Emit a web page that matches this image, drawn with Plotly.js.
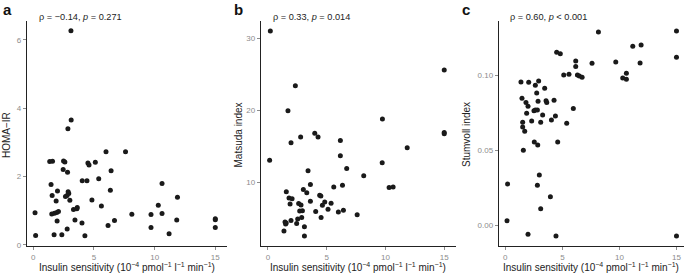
<!DOCTYPE html>
<html>
<head>
<meta charset="utf-8">
<script src="https://cdn.plot.ly/plotly-3.0.1.min.js"></script>
<style>html,body{margin:0;padding:0;background:#fff}#chart{width:685px;height:273px}</style>
</head>
<body>
<div id="chart"></div>
<script>
// Panel a: HOMA-IR vs insulin sensitivity
const sensA = [3.10,3.12,2.85,5.99,7.60,1.35,1.58,2.49,2.60,4.50,4.59,5.11,2.46,2.82,6.41,4.03,4.42,5.39,10.61,1.46,1.99,2.87,2.92,2.65,2.78,1.55,3.01,1.88,6.35,11.88,4.83,5.61,10.30,0.14,1.52,1.74,1.93,2.07,3.31,3.59,3.62,8.12,9.70,10.61,1.96,3.43,4.01,6.69,11.82,15.0,15.0,6.16,2.79,9.70,15.0,0.19,1.71,2.35,4.25,11.19];
const homaIR = [6.27,3.66,3.40,2.73,2.73,2.44,2.45,2.46,2.43,2.40,2.34,2.42,2.21,2.13,2.17,1.88,1.88,1.94,1.80,1.77,1.58,1.56,1.51,1.42,1.45,1.45,1.31,1.29,1.60,1.40,1.32,1.14,1.16,0.94,0.91,0.93,0.95,0.98,1.04,1.06,1.10,0.90,0.89,0.92,0.70,0.73,0.64,0.72,0.73,0.77,0.74,0.57,0.47,0.51,0.51,0.28,0.30,0.30,0.27,0.33];

// Panel b: Matsuda index
const sensB = [0.20,15.0,2.33,1.70,9.74,15.0,15.0,3.98,2.78,4.26,6.16,1.96,11.85,6.16,0.14,9.72,3.41,6.70,8.15,3.61,6.34,5.60,10.31,10.65,1.56,3.01,3.30,1.79,2.05,4.40,4.50,1.88,2.61,2.81,4.83,4.63,5.37,3.61,2.70,2.93,4.06,5.11,5.99,6.42,7.59,1.96,2.53,2.87,4.52,1.45,1.55,1.50,2.44,1.36,3.10,3.10];
const matsuda = [31.0,25.6,23.4,19.95,18.8,16.9,16.75,16.8,16.3,16.3,15.8,15.5,14.8,13.7,13.05,12.7,11.6,11.9,10.9,9.7,9.6,9.35,9.26,9.35,8.7,9.0,8.56,7.8,7.7,8.2,8.1,7.0,7.04,6.85,7.27,6.8,7.1,7.36,6.0,6.06,5.93,6.25,5.88,6.1,5.5,4.68,4.9,5.1,5.1,4.5,4.35,4.2,4.26,3.24,3.84,2.55];

// Panel c: Stumvoll index
const sensC = [8.16,15.0,15.0,11.17,11.90,4.50,4.82,6.17,6.17,7.60,9.68,11.81,5.12,5.58,6.32,6.49,6.73,10.61,10.29,10.61,1.37,2.05,2.63,2.92,3.45,2.75,1.46,1.81,1.99,2.87,3.57,3.63,4.27,2.51,2.63,2.81,1.87,3.27,4.39,5.96,1.52,1.52,1.70,2.31,3.10,4.04,5.38,2.54,2.84,4.59,1.58,2.98,2.81,0.20,3.95,3.10,0.15,1.99,4.44,15.0];
const stumvoll = [0.1289,0.1296,0.1120,0.1193,0.1202,0.1153,0.1144,0.1096,0.1058,0.1080,0.1089,0.1082,0.1002,0.1007,0.1002,0.0996,0.0987,0.1013,0.0982,0.0973,0.0956,0.0953,0.0933,0.0962,0.0913,0.0882,0.0847,0.0818,0.0793,0.0827,0.0831,0.0818,0.0833,0.0764,0.0769,0.0769,0.0747,0.0736,0.0729,0.0778,0.0687,0.0656,0.0627,0.0696,0.0687,0.0702,0.0680,0.0556,0.0536,0.0556,0.0500,0.0336,0.0267,0.0276,0.0191,0.0111,0.0031,-0.0060,-0.0071,-0.0071];

const panelLetters = ["a","b","c"];
const yTitles = ["HOMA\u2212IR","Matsuda index","Stumvoll index"];
const statTexts = ["\u03c1 = \u22120.14, <i>p</i> = 0.271","\u03c1 = 0.33, <i>p</i> = 0.014","\u03c1 = 0.60, <i>p</i> < 0.001"];
const xTitle = "Insulin sensitivity (10<sup>\u22124</sup> pmol<sup>\u22121</sup> l<sup>\u22121</sup> min<sup>\u22121</sup>)";
const xTicks = [0,5,10,15];
const yTicksA = [0,2,4,6];
const yTicksB = [10,20,30];
const yTicksC = [0.00,0.05,0.10];
const yTickTextC = ["0.00","0.05","0.10"];

const W = 685, H = 273;
const px = x => x / W;
const py = y => 1 - y / H;

const ydom = [py(246), py(21)];
const xdoms = [[px(26.7), px(227)], [px(260.7), px(455.5)], [px(498.7), px(684)]];

const marker = {color:'#1a1a1a', size:5};
const traces = [
  {x:sensA, y:homaIR, type:'scatter', mode:'markers', marker, xaxis:'x', yaxis:'y', hoverinfo:'x+y'},
  {x:sensB, y:matsuda, type:'scatter', mode:'markers', marker, xaxis:'x2', yaxis:'y2', hoverinfo:'x+y'},
  {x:sensC, y:stumvoll, type:'scatter', mode:'markers', marker, xaxis:'x3', yaxis:'y3', hoverinfo:'x+y'}
];

const axBase = {
  showgrid:false, zeroline:false, showline:true, linecolor:'#222', linewidth:1,
  ticks:'outside', ticklen:3, tickcolor:'#8c8c8c', tickwidth:1,
  tickfont:{family:'Liberation Sans, Arial, sans-serif', size:8, color:'#8c8c8c'},
  fixedrange:true
};
function xa(dom, range, anchor){ return Object.assign({}, axBase, {domain:dom, range, anchor, tickmode:'array', tickvals:xTicks, ticktext:xTicks.map(String)}); }
function ya(range, anchor, vals, text){ return Object.assign({}, axBase, {domain:ydom, range, anchor, tickmode:'array', tickvals:vals, ticktext:text}); }

const annFont = {family:'Liberation Sans, Arial, sans-serif', size:9.2, color:'#222'};
const titleFont = {family:'Liberation Sans, Arial, sans-serif', size:10, color:'#222'};
const letterFont = {family:'Liberation Sans, Arial, sans-serif', size:15, color:'#111'};

const annotations = [];
const letterX = [0.5, 231.5, 460];
const statX = [37, 270.7, 508];
const yTitleX = [6, 237.5, 466];
const xTitleCenters = [(26.7+227)/2, (260.7+455.5)/2, (498.7+684)/2];
for (let i=0;i<3;i++){
  annotations.push({xref:'paper', yref:'paper', x:px(letterX[i]), y:py(10), xanchor:'left', yanchor:'middle', text:'<b>'+panelLetters[i]+'</b>', showarrow:false, font:letterFont});
  annotations.push({xref:'paper', yref:'paper', x:px(statX[i]), y:py(16.5), xanchor:'left', yanchor:'middle', text:statTexts[i], showarrow:false, font:annFont});
  annotations.push({xref:'paper', yref:'paper', x:px(yTitleX[i]), y:py(135), xanchor:'center', yanchor:'middle', text:yTitles[i], textangle:-90, showarrow:false, font:titleFont});
  annotations.push({xref:'paper', yref:'paper', x:px(xTitleCenters[i]), y:py(266.5), xanchor:'center', yanchor:'middle', text:xTitle, showarrow:false, font:titleFont});
}

const layout = {
  width:W, height:H, margin:{l:0,r:0,t:0,b:0}, showlegend:false,
  paper_bgcolor:'#fff', plot_bgcolor:'#fff',
  xaxis: xa(xdoms[0], [-0.547, 15.965], 'y'),
  yaxis: ya([-0.03, 6.556], 'x', yTicksA, yTicksA.map(String)),
  xaxis2: xa(xdoms[1], [-0.62, 15.96], 'y2'),
  yaxis2: ya([1.15, 32.4], 'x2', yTicksB, yTicksB.map(String)),
  xaxis3: xa(xdoms[2], [-0.58, 15.66], 'y3'),
  yaxis3: ya([-0.0138, 0.1362], 'x3', yTicksC, yTickTextC),
  annotations
};

Plotly.newPlot('chart', traces, layout, {displayModeBar:false, staticPlot:true});
</script>
</body>
</html>
